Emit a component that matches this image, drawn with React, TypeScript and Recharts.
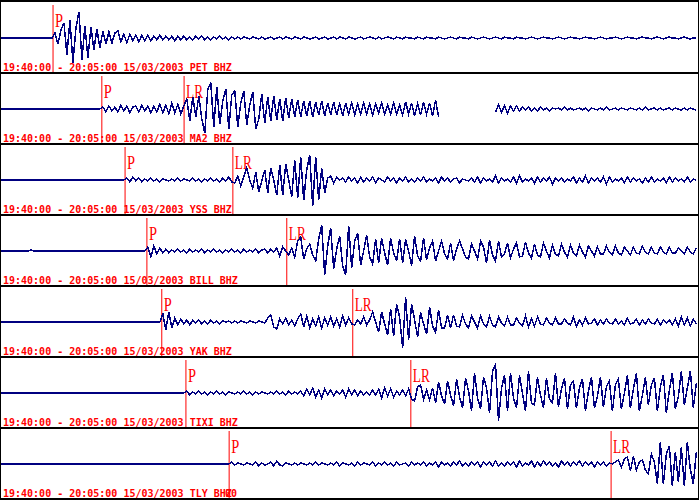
import { LineChart, Line, XAxis, YAxis, ReferenceLine } from "recharts"

// ── Data ──────────────────────────────────────────────────────────────────────
// Window 19:40:00 – 20:05:00 (1500 s). One reading every STEP seconds,
// amplitude in counts (positive up), null = no data.

const STEP = 6.45
const WINDOW = 1500
const TIME_LABEL = "19:40:00 - 20:05:00 15/03/2003"

const STATIONS = ["PET BHZ", "MA2 BHZ", "YSS BHZ", "BILL BHZ", "YAK BHZ", "TIXI BHZ", "TLY BHZ"]
// arrival times, seconds after 19:40:00
const P_ARRIVALS = [112, 217, 267, 314, 346, 398, 491]
const LR_ARRIVALS: (number | null)[] = [null, 394, 499, 615, 757, 882, 1313]

const PET = [
  0, 0, 0, 0, 0, 0, 0, 0, 0, 0,
  0, 0, 0, 0, 0, 0, 0, 0, 5, -6,
  8, 15, -17, 18, -25, 10, 26, -22, 12, -20,
  11, -12, 9, -10, 7, -6, 6, -5, 5, 7,
  -4, 4, -5, 4, -3, 3, -4, 3, -3, 3,
  -3, 2, -2, 3, -2, 2, -2, 2, -3, 2,
  -2, 2, -2, 1, -2, 2, -1, 2, -2, 1,
  -2, 1, -1, 2, -1, 1, -2, 1, -1, 1,
  -1, 1, 0, -1, 1, 0, -1, 1, -1, 0,
  1, -1, 0, 1, -1, 1, 0, -1, 1, 0,
  -1, 1, 0, -1, 0, 1, -1, 0, 1, -1,
  0, 1, -1, 1, 0, -1, 1, 0, -1, 0,
  1, -1, 0, 1, 0, -1, 1, -1, 0, 1,
  0, -1, 1, 0, -1, 1, 0, 0, -1, 1,
  0, -1, 1, 0, 0, -1, 1, 0, -1, 0,
  1, 0, -1, 1, 0, 0, -1, 1, 0, -1,
  0, 1, 0, -1, 0, 1, 0, -1, 1, 0,
  0, -1, 1, 0, 0, -1, 0, 1, 0, -1,
  0, 1, 0, 0, -1, 0, 1, 0, -1, 0,
  1, 0, 0, -1, 0, 1, 0, 0, -1, 0,
  1, 0, -1, 0, 0, 1, 0, -1, 0, 1,
  0, 0, -1, 0, 1, 0, 0, -1, 0, 1,
  0, -1, 0, 1, 0, 0, -1, 0, 1, 0,
  -1, 0, 0,
]

const MA2 = [
  0, 0, 0, 0, 0, 0, 0, 0, 0, 0,
  0, 0, 0, 0, 0, 0, 0, 0, 0, 0,
  0, 0, 0, 0, 0, 0, 0, 0, 0, 0,
  0, 0, 0, 0, 2, -3, 3, -2, 2, -3,
  4, -2, 3, -4, 2, 3, -3, 4, -2, 3,
  -4, 3, -3, 5, -4, 4, -5, 6, -4, 5,
  -5, 3, 10, -12, 12, -8, 13, -10, -24, 20,
  26, -18, 22, -15, 8, 20, -20, 14, 18, -18,
  6, 18, -16, 4, 17, -20, -10, 15, -14, 12,
  -12, 13, -11, 10, -12, 11, -9, 10, -8, 9,
  -8, 8, -7, 8, -8, 7, -6, 8, -7, 6,
  -6, 7, -6, 5, -7, 6, -5, 6, -6, 5,
  -5, 6, -5, 5, -6, 5, -4, 6, -5, 4,
  -5, 6, -5, 4, -6, 7, -5, 6, -7, 5,
  -6, 7, -5, 6, -7, 9, -8, null, null, null,
  null, null, null, null, null, null, null, null, null, null,
  null, null, null, null, null, -3, 4, -3, 3, -4,
  3, -2, 3, -2, 2, -1, 2, -2, 1, -2,
  2, -1, 1, -2, 1, 0, 1, -1, 2, -1,
  1, -1, 0, 1, -1, 1, -2, 1, 0, -1,
  1, -1, 2, -1, 0, 1, -1, 1, 0, -1,
  1, 0, -1, 1, -1, 2, -1, 0, 1, -1,
  1, -1, 0, 1, -1, 1, 0, -1, 1, -1,
  1, 0, -1,
]

const YSS = [
  0, 0, 0, 0, 0, 0, 0, 0, 0, 0,
  0, 0, 0, 0, 0, 0, 0, 0, 0, 0,
  0, 0, 0, 0, 0, 0, 0, 0, 0, 0,
  0, 0, 0, 0, 0, 0, 0, 0, 0, 0,
  0, 0, 2, -2, 3, -1, 2, -2, 1, -1,
  2, -1, 1, -2, 1, 0, -1, 1, -1, 2,
  -1, 1, 0, -1, 2, -1, 1, -2, 1, -1,
  2, -1, 1, -2, 2, -1, 3, -2, -3, 4,
  -6, 3, 12, 0, -8, 8, -12, -1, 10, -13,
  12, 0, -15, 15, -15, 16, 0, -17, 20, -18,
  23, -20, 10, 25, -26, 23, -20, 12, -13, 2,
  4, -3, 3, 0, 2, -2, 3, -1, 2, -3,
  3, -2, 2, -1, 3, -3, 2, 0, -2, 3,
  -1, 2, -3, 2, -1, 3, -2, 1, -2, 2,
  -1, 3, -2, 1, -1, 2, -3, 3, -1, 2,
  -2, 1, 2, -3, 1, 0, -1, 2, -2, 3,
  -3, 2, -1, 1, -2, 4, -3, 2, -1, 1,
  -2, 3, -3, 4, -2, 1, -1, 2, -3, 3,
  -2, 2, -1, 3, -4, 2, -1, 2, -2, 1,
  -1, 3, -3, 2, -2, 4, -3, 2, -1, 2,
  -2, 3, -4, 3, -2, 1, -1, 2, -3, 3,
  -2, 2, -1, 1, -3, 2, -2, 3, -2, 1,
  -1, 2, -3, 3, -2, 2, -1, 1, -2, 3,
  -2, 1, 0,
]

const BILL = [
  0, 0, 0, 0, 0, 0, 0, 0, 0, 0,
  1, 0, 0, 0, 0, 0, 0, 0, 0, 0,
  0, 0, 0, 0, 0, 0, 0, 0, 0, 0,
  0, 0, 0, 0, 0, 0, 0, 0, 0, 0,
  0, 0, 0, 0, 0, 0, 0, 0, 0, 4,
  -6, 5, -3, 3, -2, 2, -2, 1, -1, 2,
  -1, 1, -2, 2, -1, 1, -1, 2, -2, 1,
  -1, 2, -1, 1, -2, 1, -1, 2, -1, 1,
  -2, 2, -1, 1, -1, 2, -2, 1, 2, -2,
  2, -1, 3, -5, 4, 0, -4, 3, -6, 10,
  14, -8, 2, 7, -4, -10, 12, 26, -24, 5,
  23, -18, 2, 15, -15, -24, 25, -17, 10, 18,
  -14, 0, 16, -6, -13, 12, -12, 13, -2, -14,
  13, -2, -10, 12, -12, 12, 0, -15, 15, -5,
  -10, 13, -9, 3, 10, -10, 0, 10, -3, -8,
  8, -10, 2, 10, 2, -6, -8, 7, 0, -8,
  10, 4, -12, 11, -4, -10, 10, -6, -3, 8,
  -7, 2, 8, -6, -5, 9, -2, -7, 7, -4,
  -6, 8, 0, -7, 6, -3, -5, 7, -1, -6,
  6, -2, -5, 6, -1, -6, 5, 0, -5, 4,
  -3, -3, 5, -1, -4, 5, -2, -4, 4, 0,
  -4, 4, -2, -3, 5, -1, -3, 4, -2, -3,
  4, -1, -3, 4, -2, -2, 3, 0, -3, 4,
  -1, -3, 3,
]

const YAK = [
  0, 0, 0, 0, 0, 0, 0, 0, 0, 0,
  0, 0, 0, 0, 0, 0, 0, 0, 0, 0,
  0, 0, 0, 0, 0, 0, 0, 0, 0, 0,
  0, 0, 0, 0, 0, 0, 0, 0, 0, 0,
  0, 0, 0, 0, 0, 0, 0, 0, 0, 0,
  0, 0, 0, 0, 8, -8, 10, -6, 4, -3,
  3, -2, 2, -3, 2, -1, 2, -2, 1, -2,
  2, -1, 1, -2, 1, 0, 1, -1, 1, -1,
  1, 0, -1, 1, 0, -1, 1, 0, -1, 4,
  7, -5, -7, 3, -2, 4, -3, 2, -4, 3,
  8, -5, 6, -6, 3, -4, 5, -6, 4, -3,
  5, -4, 3, -5, 6, -3, 4, -2, -3, 2,
  -2, 5, -3, 2, 10, 0, -10, 10, -2, -13,
  13, -14, 18, 5, -26, 25, -18, 18, 2, -15,
  10, -2, -12, 15, -4, -10, 12, -6, -6, 7,
  -6, 7, -4, -5, 7, -2, -6, 6, 0, -6,
  6, -2, -5, 6, -3, -5, 5, -1, -4, 5,
  -3, -3, 4, -1, -4, 6, -5, 3, -4, 5,
  -2, -3, 4, -1, -3, 4, -2, -2, 3, -1,
  -3, 5, -4, 2, -3, 4, -2, -1, 3, -3,
  2, -2, 3, -1, -2, 3, -2, 1, -3, 4,
  -2, -1, 3, -3, 2, -2, 3, -1, -2, 3,
  -3, 2, -1, 2, -3, 3, -4, 5, -3, 4,
  -4, 3, -2,
]

const TIXI = [
  0, 0, 0, 0, 0, 0, 0, 0, 0, 0,
  0, 0, 0, 0, 0, 0, 0, 0, 0, 0,
  0, 0, 0, 0, 0, 0, 0, 0, 0, 0,
  0, 0, 0, 0, 0, 0, 0, 0, 0, 0,
  0, 0, 0, 0, 0, 0, 0, 0, 0, 0,
  0, 0, 0, 0, 0, 0, 0, 0, 0, 0,
  0, 0, 2, -2, 1, -1, 2, -1, 1, -2,
  1, -1, 2, -1, 1, -2, 1, 0, -1, 1,
  -1, 2, -1, 1, -2, 1, -1, 1, 0, -1,
  1, -1, 2, -1, 1, -2, 2, -1, 1, -1,
  2, -3, 4, -2, 5, -4, 3, -5, 4, -2,
  3, -3, 2, -1, 3, -4, 4, -2, 3, -3,
  2, -2, 1, -2, 3, -2, 4, -5, 5, -3,
  4, -4, 2, -2, 3, -3, 4, -6, -8, 6,
  8, -6, 3, -7, 5, -10, 11, -3, -11, 12,
  -2, -13, 14, -4, -15, 15, 2, -18, 20, -5,
  -16, 16, 5, -20, 22, 28, -28, 5, 18, -18,
  20, -5, -15, 18, 0, -18, 22, -10, -12, 16,
  -2, -15, 15, -6, -10, 20, -14, 4, 15, -16,
  8, 12, -15, 5, 14, -18, 2, 16, -15, -3,
  16, -14, 6, 12, -18, 8, 14, -16, 0, 18,
  -15, 4, 20, -18, -2, 16, -12, 8, 15, -18,
  6, 18, -20, 3, 20, -16, -4, 22, -12, 5,
  22, -15, 10,
]

const TLY = [
  0, 0, 0, 0, 0, 0, 0, 0, 0, 0,
  0, 0, 0, 0, 0, 0, 0, 0, 0, 0,
  0, 0, 0, 0, 0, 0, 0, 0, 0, 0,
  0, 0, 0, 0, 0, 0, 0, 0, 0, 0,
  0, 0, 0, 0, 0, 0, 0, 0, 0, 0,
  0, 0, 0, 0, 0, 0, 0, 0, 0, 0,
  0, 0, 0, 0, 0, 0, 0, 0, 0, 0,
  0, 0, 0, 0, 0, 0, 0, 2, -1, 1,
  0, -1, 1, 0, -1, 2, -2, 1, -1, 0,
  2, -2, 3, -1, -2, 1, 0, -1, 1, -1,
  1, 0, -1, 1, -1, 2, -1, 1, 0, -1,
  1, -1, 2, -2, 1, 0, -1, 1, -2, 2,
  -1, 1, 0, -1, 2, -2, 1, -1, 2, -1,
  1, -2, 2, -1, 0, 1, -2, 2, -1, 1,
  -1, 2, -2, 1, -1, 2, -3, 2, -1, 1,
  -2, 2, -1, 3, -2, 1, -2, 2, -1, 2,
  -3, 2, -1, 2, -2, 3, -2, 1, -2, 2,
  -1, 2, -3, 3, -2, 1, -1, 3, -3, 2,
  -2, 3, -1, 2, -2, 1, -3, 3, -1, 2,
  -2, 2, -1, 3, -2, 2, -1, 2, -3, 2,
  -1, 2, -2, 1, 0, 2, 4, -3, 5, 7,
  -7, 8, -6, 2, 4, -6, -10, 10, 2, -20,
  22, -20, 10, 18, -22, 12, -18, 17, -22, 22,
  -5, -20, 12,
]

const TRACES = [PET, MA2, YSS, BILL, YAK, TIXI, TLY]

// ── Layout ────────────────────────────────────────────────────────────────────

const W = 700
const PANEL_PITCH = 71
const PANEL_H = 69
const RED = "#ff0000"
const NAVY = "#000080"

function arrivalLabel(text: string, width: number) {
  return (props: any) => {
    const vb = props.viewBox || {}
    return (
      <text
        x={vb.x + 2}
        y={vb.y + 22}
        fill={RED}
        fontFamily="'Liberation Serif', serif"
        fontSize={18}
        textLength={width}
        lengthAdjust="spacingAndGlyphs"
      >
        {text}
      </text>
    )
  }
}

function Trace({ index }: { index: number }) {
  const values = TRACES[index]
  const data = values.map((v, i) => ({ t: i * STEP, v }))
  const p = P_ARRIVALS[index]
  const lr = LR_ARRIVALS[index]
  const top = index * PANEL_PITCH + 3
  const isTly = index === 6
  const labelFont = { fontFamily: "'DejaVu Sans Mono', monospace", fontSize: 10, fontWeight: 700 }
  return (
    <div style={{ position: "absolute", left: 0, top, width: W, height: PANEL_H }}>
      <LineChart width={W} height={PANEL_H} data={data} margin={{ top: 0, right: 2, bottom: 0, left: 1 }}>
        <XAxis dataKey="t" type="number" domain={[0, WINDOW]} hide />
        <YAxis type="number" domain={[-34, 35]} hide allowDataOverflow />
        <ReferenceLine
          segment={[{ x: p, y: 33 }, { x: p, y: -34 }]}
          stroke={RED}
          strokeWidth={1}
          label={arrivalLabel("P", 8)}
        />
        {lr != null && (
          <ReferenceLine
            segment={[{ x: lr, y: 33 }, { x: lr, y: -34 }]}
            stroke={RED}
            strokeWidth={1}
            label={arrivalLabel("LR", 17)}
          />
        )}
        <Line
          dataKey="v"
          stroke={NAVY}
          strokeWidth={1.5}
          shapeRendering="crispEdges"
          dot={false}
          connectNulls={false}
          isAnimationActive={false}
        />
      </LineChart>
      <svg width={W} height={PANEL_H} style={{ position: "absolute", left: 0, top: 0, pointerEvents: "none" }}>
        <text x={3} y={68} fill={RED} {...labelFont}>
          {TIME_LABEL} {STATIONS[index]}
        </text>
        {isTly && (
          <text x={225} y={68} fill={RED} {...labelFont}>
            00
          </text>
        )}
      </svg>
    </div>
  )
}

export default function App() {
  const borders = [0, 1, 2, 3, 4, 5, 6, 7]
  return (
    <div style={{ position: "fixed", left: 0, top: 0, width: W, height: 500, background: "#fff", overflow: "hidden" }}>
      {STATIONS.map((_, i) => (
        <Trace key={i} index={i} />
      ))}
      {borders.map((k) => (
        <div
          key={k}
          style={{ position: "absolute", left: 0, top: k === 0 ? 0 : k * PANEL_PITCH + 1, width: 699, height: 2, background: "#000" }}
        />
      ))}
      <div style={{ position: "absolute", left: 0, top: 0, width: 1, height: 500, background: "#000" }} />
      <div style={{ position: "absolute", left: 698, top: 0, width: 1, height: 500, background: "#000" }} />
    </div>
  )
}
